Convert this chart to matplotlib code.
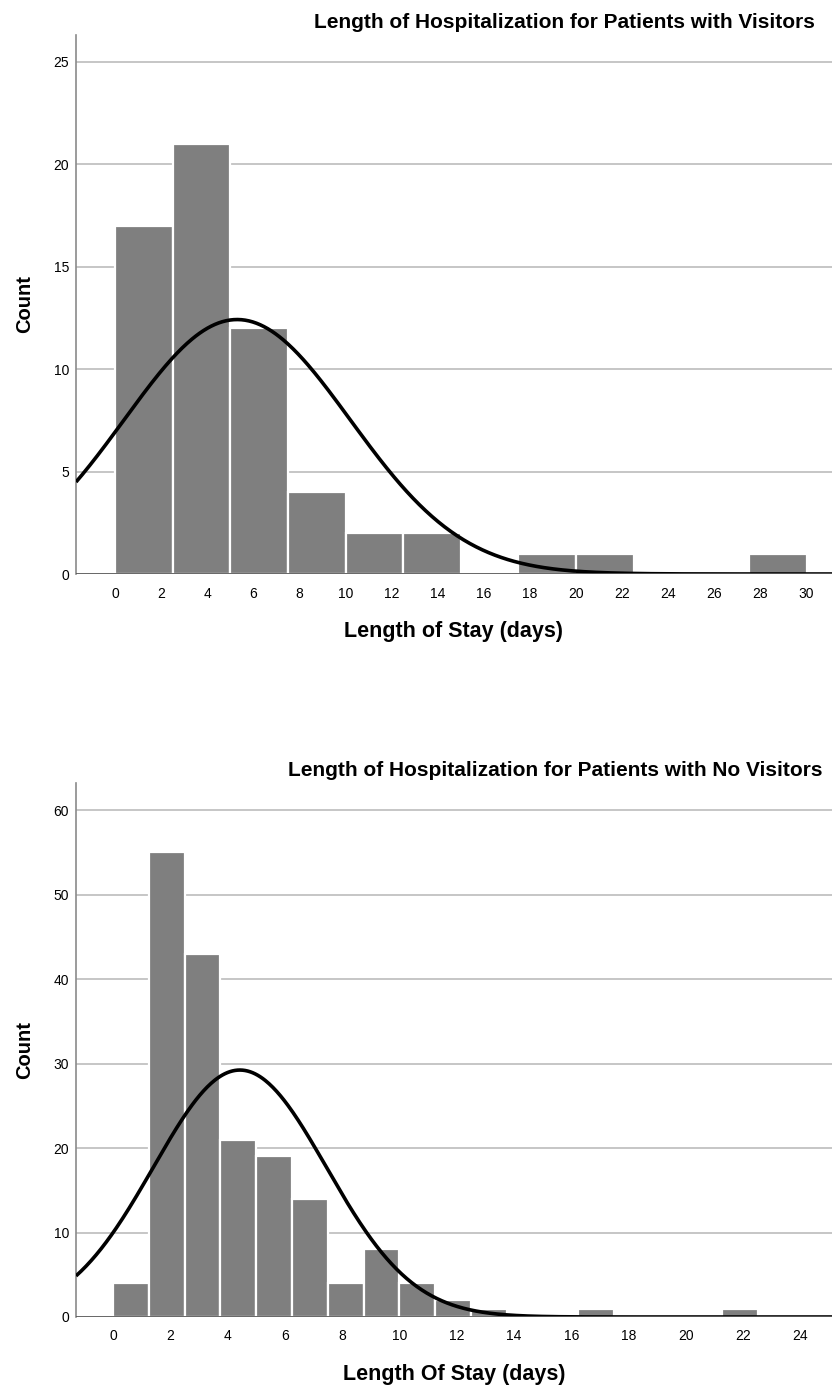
import numpy as np
import matplotlib
matplotlib.use("Agg")
import matplotlib.pyplot as plt

plt.rcParams['font.family'] = ['Liberation Sans', 'DejaVu Sans']

# --- data ---
# patients with visitors: bins of 2.5 days from 0 to 30
vis_edges_start = 0.0
vis_bin_width = 2.5
vis_counts = [17, 21, 12, 4, 2, 2, 0, 1, 1, 0, 0, 1]
vis_mean = 5.3
vis_sd = 4.9

# patients with no visitors: bins of 1.25 days from 0 to 22.5
novis_edges_start = 0.0
novis_bin_width = 1.25
novis_counts = [4, 55, 43, 21, 19, 14, 4, 8, 4, 2, 1, 0, 0, 1, 0, 0, 0, 1]
novis_mean = 4.43
novis_sd = 3.02

vis_xticks = list(range(0, 31, 2))
novis_xticks = list(range(0, 25, 2))
vis_yticks = [0, 5, 10, 15, 20, 25]
novis_yticks = [0, 10, 20, 30, 40, 50, 60]

W, H = 832, 1385
fig = plt.figure(figsize=(W / 100, H / 100), dpi=100)

bar_color = '#7f7f7f'
grid_color = '#c6c6c6'


def draw_panel(rect, counts, start, bw, mean, sd, xlim, ylim, xticks, yticks):
    ax = fig.add_axes(rect)
    edges = start + bw * np.arange(len(counts))
    ax.bar(edges, counts, width=bw, align='edge', color=bar_color,
           edgecolor='white', linewidth=1.6, zorder=2)
    n = sum(counts)
    xs = np.linspace(xlim[0], xlim[1], 600)
    ys = n * bw * np.exp(-0.5 * ((xs - mean) / sd) ** 2) / (sd * np.sqrt(2 * np.pi))
    ax.plot(xs, ys, color='black', linewidth=2.6, zorder=3, solid_capstyle='butt')
    ax.set_xlim(*xlim)
    ax.set_ylim(*ylim)
    ax.set_xticks(xticks)
    ax.set_yticks(yticks)
    for y in yticks[1:]:
        ax.axhline(y, color=grid_color, linewidth=1.4, zorder=1)
    ax.axhline(0, color='#5a5a5a', linewidth=1.3, zorder=4)
    for s in ['top', 'right', 'bottom']:
        ax.spines[s].set_visible(False)
    ax.spines['left'].set_color('#8a8a8a')
    ax.spines['left'].set_linewidth(1.2)
    ax.tick_params(axis='x', length=0, pad=9, labelsize=10)
    ax.tick_params(axis='y', length=0, pad=5, labelsize=10)
    ax.set_ylabel('Count', fontsize=14.5, fontweight='bold', labelpad=14)
    return ax


ax1 = draw_panel([76 / W, 1 - 574 / H, 1 - 76 / W, (574 - 35) / H],
                 vis_counts, vis_edges_start, vis_bin_width, vis_mean, vis_sd,
                 (-1.69, 31.1), (0, 26.3), vis_xticks, vis_yticks)
ax1.set_xlabel('Length of Stay (days)', fontsize=15.5, fontweight='bold', labelpad=15)
fig.text(815 / W, 1 - 22 / H, 'Length of Hospitalization for Patients with Visitors',
         ha='right', va='center', fontsize=15, fontweight='bold')

ax2 = draw_panel([76 / W, 1 - 1317 / H, 1 - 76 / W, (1317 - 783) / H],
                 novis_counts, novis_edges_start, novis_bin_width, novis_mean, novis_sd,
                 (-1.29, 25.1), (0, 63.2), novis_xticks, novis_yticks)
ax2.set_xlabel('Length Of Stay (days)', fontsize=15.5, fontweight='bold', labelpad=15)
fig.text(823 / W, 1 - 771 / H, 'Length of Hospitalization for Patients with No Visitors',
         ha='right', va='center', fontsize=15, fontweight='bold')

fig.savefig('out.png', dpi=100)
